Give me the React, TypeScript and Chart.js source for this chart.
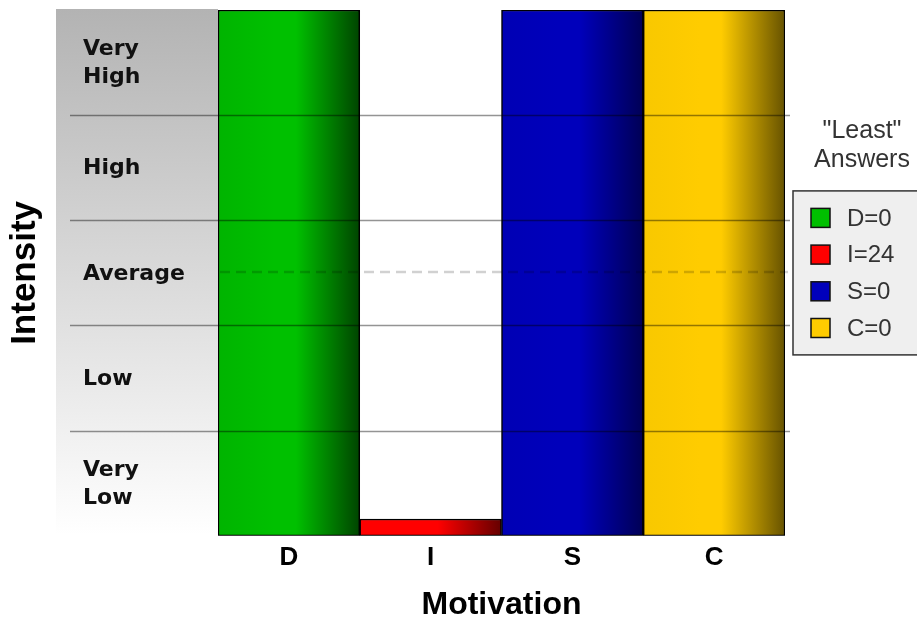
import React, { useEffect, useRef } from "react";
import { Chart, registerables } from "chart.js";

Chart.register(...registerables);

// ---------- data ----------
const categories = ["D", "I", "S", "C"];
const intensityValues = [100, 3.2, 100, 100];
const leastAnswers = [0, 24, 0, 0];
const barLight = ["#00b400", "#ff0000", "#0000b4", "#f8c800"];
const barMid = ["#00c000", "#ff0000", "#0000bb", "#ffcc00"];
const barDark = ["#004400", "#640000", "#000055", "#665200"];
const bandLabels = [["Very", "Low"], ["Low"], ["Average"], ["High"], ["Very", "High"]];
const bandCenters = [10, 30, 50, 70, 90];
const gridValues = [20, 40, 60, 80];
const averageValue = 50;
const yMin = 0;
const yMax = 100;
const legendTitle = ['"Least"', "Answers"];
const xTitle = "Motivation";
const yTitle = "Intensity";

const SANS = "'Liberation Sans', Arial, sans-serif";
const DEJAVU = "'DejaVu Sans', Verdana, sans-serif";

const bandPlugin = {
  id: "bandPlugin",
  beforeDatasetsDraw(chart: any) {
    const { ctx, chartArea } = chart;
    const y = chart.scales.y;
    const left = chartArea.left - 162;
    const top = chartArea.top - 1;
    const bottom = chartArea.bottom - 1;
    ctx.save();
    const g = ctx.createLinearGradient(0, top, 0, bottom);
    g.addColorStop(0, "#b3b3b3");
    g.addColorStop(1, "#ffffff");
    ctx.fillStyle = g;
    ctx.fillRect(left, top, chartArea.left - left, bottom - top);
    ctx.font = `bold 22px ${DEJAVU}`;
    ctx.fillStyle = "#111";
    ctx.textAlign = "left";
    ctx.textBaseline = "middle";
    bandLabels.forEach((lines, i) => {
      const cy = y.getPixelForValue(bandCenters[i]) + 1;
      lines.forEach((t, j) => {
        ctx.fillText(t, chartArea.left - 135, cy + (j - (lines.length - 1) / 2) * 28);
      });
    });
    ctx.restore();
  },
  afterDatasetsDraw(chart: any) {
    const { ctx, chartArea } = chart;
    const y = chart.scales.y;
    ctx.save();
    ctx.strokeStyle = "rgba(0,0,0,0.42)";
    ctx.lineWidth = 1.3;
    gridValues.forEach((v) => {
      const py = Math.round(y.getPixelForValue(v)) + 0.5;
      ctx.beginPath();
      ctx.moveTo(chartArea.left - 148, py);
      ctx.lineTo(chartArea.right + 5, py);
      ctx.stroke();
    });
    const ay = y.getPixelForValue(averageValue) - 1;
    ctx.strokeStyle = "rgba(0,0,0,0.18)";
    ctx.lineWidth = 2.5;
    ctx.setLineDash([10, 6]);
    ctx.beginPath();
    ctx.moveTo(chartArea.left + 2, ay);
    ctx.lineTo(chartArea.right + 3, ay);
    ctx.stroke();
    ctx.restore();
  },
  afterDraw(chart: any) {
    const { ctx, chartArea } = chart;
    const cy = (chartArea.top + chartArea.bottom) / 2;
    const boxX = chartArea.right + 8;
    const boxTop = cy - 82;
    const boxBottom = cy + 82;
    ctx.save();
    ctx.fillStyle = "#efefef";
    ctx.fillRect(boxX, boxTop, chart.width - boxX + 10, boxBottom - boxTop);
    ctx.strokeStyle = "#333";
    ctx.lineWidth = 1.5;
    ctx.strokeRect(boxX, boxTop, chart.width - boxX + 10, boxBottom - boxTop);
    ctx.fillStyle = "#333";
    ctx.font = `25px ${SANS}`;
    ctx.textAlign = "center";
    ctx.textBaseline = "middle";
    legendTitle.forEach((t, i) => {
      ctx.fillText(t, chartArea.right + 77, cy - 142 + i * 29);
    });
    ctx.textAlign = "left";
    ctx.font = `24px ${SANS}`;
    categories.forEach((c, i) => {
      const iy = cy - 55 + i * 36.7;
      ctx.fillStyle = barMid[i];
      ctx.fillRect(chartArea.right + 26, iy - 9.5, 19, 19);
      ctx.strokeStyle = "#111";
      ctx.lineWidth = 1.5;
      ctx.strokeRect(chartArea.right + 26, iy - 9.5, 19, 19);
      ctx.fillStyle = "#333";
      ctx.fillText(`${c}=${leastAnswers[i]}`, chartArea.right + 62, iy + 1);
    });
    ctx.restore();
  },
};

export default function App() {
  const ref = useRef<HTMLCanvasElement>(null);
  useEffect(() => {
    const chart = new Chart(ref.current as HTMLCanvasElement, {
      type: "bar",
      data: {
        labels: categories,
        datasets: [
          {
            label: "Intensity",
            data: intensityValues,
            backgroundColor: (c: any) => {
              const ch = c.chart;
              const area = ch.chartArea;
              const i = c.dataIndex;
              if (!area || i === undefined) return barMid[i ?? 0];
              const x = ch.scales.x;
              const cx = x.getPixelForValue(i);
              const w = (area.right - area.left) / categories.length;
              const g = ch.ctx.createLinearGradient(cx - w / 2, 0, cx + w / 2, 0);
              g.addColorStop(0, barLight[i]);
              g.addColorStop(0.4, barMid[i]);
              g.addColorStop(0.55, barMid[i]);
              g.addColorStop(1, barDark[i]);
              return g;
            },
            borderColor: "#000",
            borderWidth: 1.5,
            borderSkipped: false,
            barPercentage: 1,
            categoryPercentage: 1,
          },
        ],
      },
      options: {
        animation: false,
        responsive: true,
        maintainAspectRatio: false,
        layout: { padding: { top: 10, right: 132, bottom: 0, left: 0 } },
        plugins: { legend: { display: false }, tooltip: { enabled: false } },
        scales: {
          x: {
            grid: { display: false, drawTicks: false },
            border: { display: false },
            ticks: {
              color: "#000",
              padding: 6,
              font: { family: SANS, size: 26, weight: "bold" },
            },
            title: {
              display: true,
              text: xTitle,
              color: "#000",
              font: { family: SANS, size: 32, weight: "bold", lineHeight: 1 },
              padding: { top: 10, bottom: 0 },
            },
          },
          y: {
            min: yMin,
            max: yMax,
            grid: { display: false, drawTicks: false },
            border: { display: false },
            ticks: { display: false },
            title: {
              display: true,
              text: yTitle,
              color: "#000",
              font: { family: SANS, size: 35, weight: "bold", lineHeight: 1.2 },
              padding: { top: 4, bottom: 4 },
            },
            afterFit: (s: any) => {
              s.width = 218;
            },
          },
        },
      },
      plugins: [bandPlugin],
    } as any);
    return () => chart.destroy();
  }, []);
  return (
    <div style={{ position: "absolute", left: 0, top: 0, width: 917, height: 621 }}>
      <canvas ref={ref} />
    </div>
  );
}
